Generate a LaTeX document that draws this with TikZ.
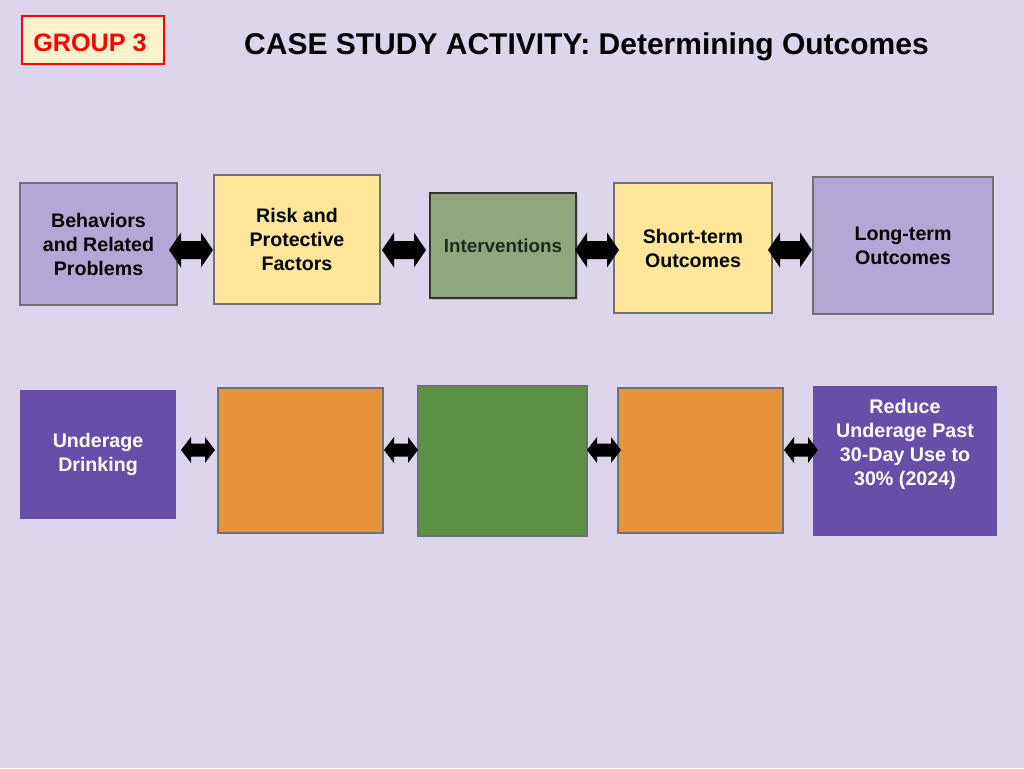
\documentclass[tikz,border=0pt]{standalone}
\usepackage{fontspec}
\setmainfont{Liberation Sans}
\usetikzlibrary{shadows}
\definecolor{bgc}{RGB}{221,213,235}
\definecolor{lav}{RGB}{180,167,214}
\definecolor{yel}{RGB}{255,230,153}
\definecolor{sage}{RGB}{143,166,126}
\definecolor{purp}{RGB}{103,78,167}
\definecolor{orng}{RGB}{231,147,58}
\definecolor{grn}{RGB}{93,145,70}
\definecolor{grpfill}{RGB}{255,242,204}
\definecolor{bordc}{RGB}{112,112,112}
\definecolor{darktxt}{RGB}{30,42,27}
\tikzset{
  box/.style={draw=bordc, line width=0.6pt, inner sep=0pt, align=center,
    font=\fontsize{9.8pt}{12pt}\selectfont\bfseries},
  pics/dblarrow/.style n args={4}{code={
    \fill[black] (-#1,0) -- (-#1+#4,-#2) -- (-#1+#4,-#3) -- (#1-#4,-#3) -- (#1-#4,-#2)
      -- (#1,0) -- (#1-#4,#2) -- (#1-#4,#3) -- (-#1+#4,#3) -- (-#1+#4,#2) -- cycle;
  }},
  pics/bigarrow/.style={dblarrow={22}{17.5}{9}{12}},
  pics/smallarrow/.style={dblarrow={17}{13}{6.5}{10}},
}
\begin{document}
\begin{tikzpicture}[x=0.5pt,y=-0.5pt]
\fill[bgc] (0,0) rectangle (1024,768);
\useasboundingbox (0,0) rectangle (1024,768);
% header
\node[draw=red, fill=grpfill, line width=0.6pt, minimum width=71pt, minimum height=24pt, inner sep=0pt] (grp) at (93,40) {};
\node[text=red, font=\fontsize{12.6pt}{14pt}\selectfont\bfseries, inner sep=0pt] (grptxt) at (90,43) {GROUP 3};
\node[font=\fontsize{15pt}{18pt}\selectfont\bfseries, inner sep=0pt] (title) at (586.5,47) {CASE STUDY ACTIVITY: Determining Outcomes};
% top row
\node[box, fill=lav, minimum width=78.5pt, minimum height=61pt] (beh) at (98.5,244) {Behaviors\\and Related\\Problems};
\node[box, fill=yel, minimum width=83pt, minimum height=64.5pt] (risk) at (297,239.5) {Risk and\\Protective\\Factors};
\node[box, fill=sage, draw=black!80, minimum width=73pt, minimum height=52.5pt, text=darktxt,
  font=\fontsize{9.4pt}{12pt}\selectfont\bfseries,
  drop shadow={shadow xshift=1pt, shadow yshift=-1pt, opacity=0.35}] (interv) at (503,245.5) {Interventions};
\node[box, fill=yel, minimum width=79pt, minimum height=65pt] (short) at (693,248) {Short-term\\Outcomes};
\node[box, fill=lav, minimum width=90pt, minimum height=68.5pt] (long) at (903,245.5) {Long-term\\Outcomes};
\pic (ta1) at (191,250) {bigarrow};
\pic (ta2) at (404,250) {bigarrow};
\pic (ta3) at (597,250) {bigarrow};
\pic (ta4) at (790,250) {bigarrow};
% bottom row
\node[box, draw=none, fill=purp, text=white, minimum width=78pt, minimum height=64.5pt] (under) at (98,454.5) {Underage\\Drinking};
\node[box, fill=orng, minimum width=82.5pt, minimum height=72.5pt] (o1) at (300.5,460.5) {};
\node[box, fill=grn, minimum width=84.5pt, minimum height=75pt] (grnbox) at (502.5,461) {};
\node[box, fill=orng, minimum width=82.5pt, minimum height=72.5pt] (o2) at (700.5,460.5) {};
\node[box, draw=none, fill=purp, minimum width=92pt, minimum height=75pt] (reduce) at (905,461) {};
\node[text=white, align=center, inner sep=0pt, font=\fontsize{9.85pt}{12pt}\selectfont\bfseries] (reducetxt) at (905,444) {Reduce\\Underage Past\\30-Day Use to\\30\% (2024)};
\pic (ba1) at (198,450) {smallarrow};
\pic (ba2) at (401,450) {smallarrow};
\pic (ba3) at (604,450) {smallarrow};
\pic (ba4) at (801,450) {smallarrow};
\end{tikzpicture}
\end{document}
